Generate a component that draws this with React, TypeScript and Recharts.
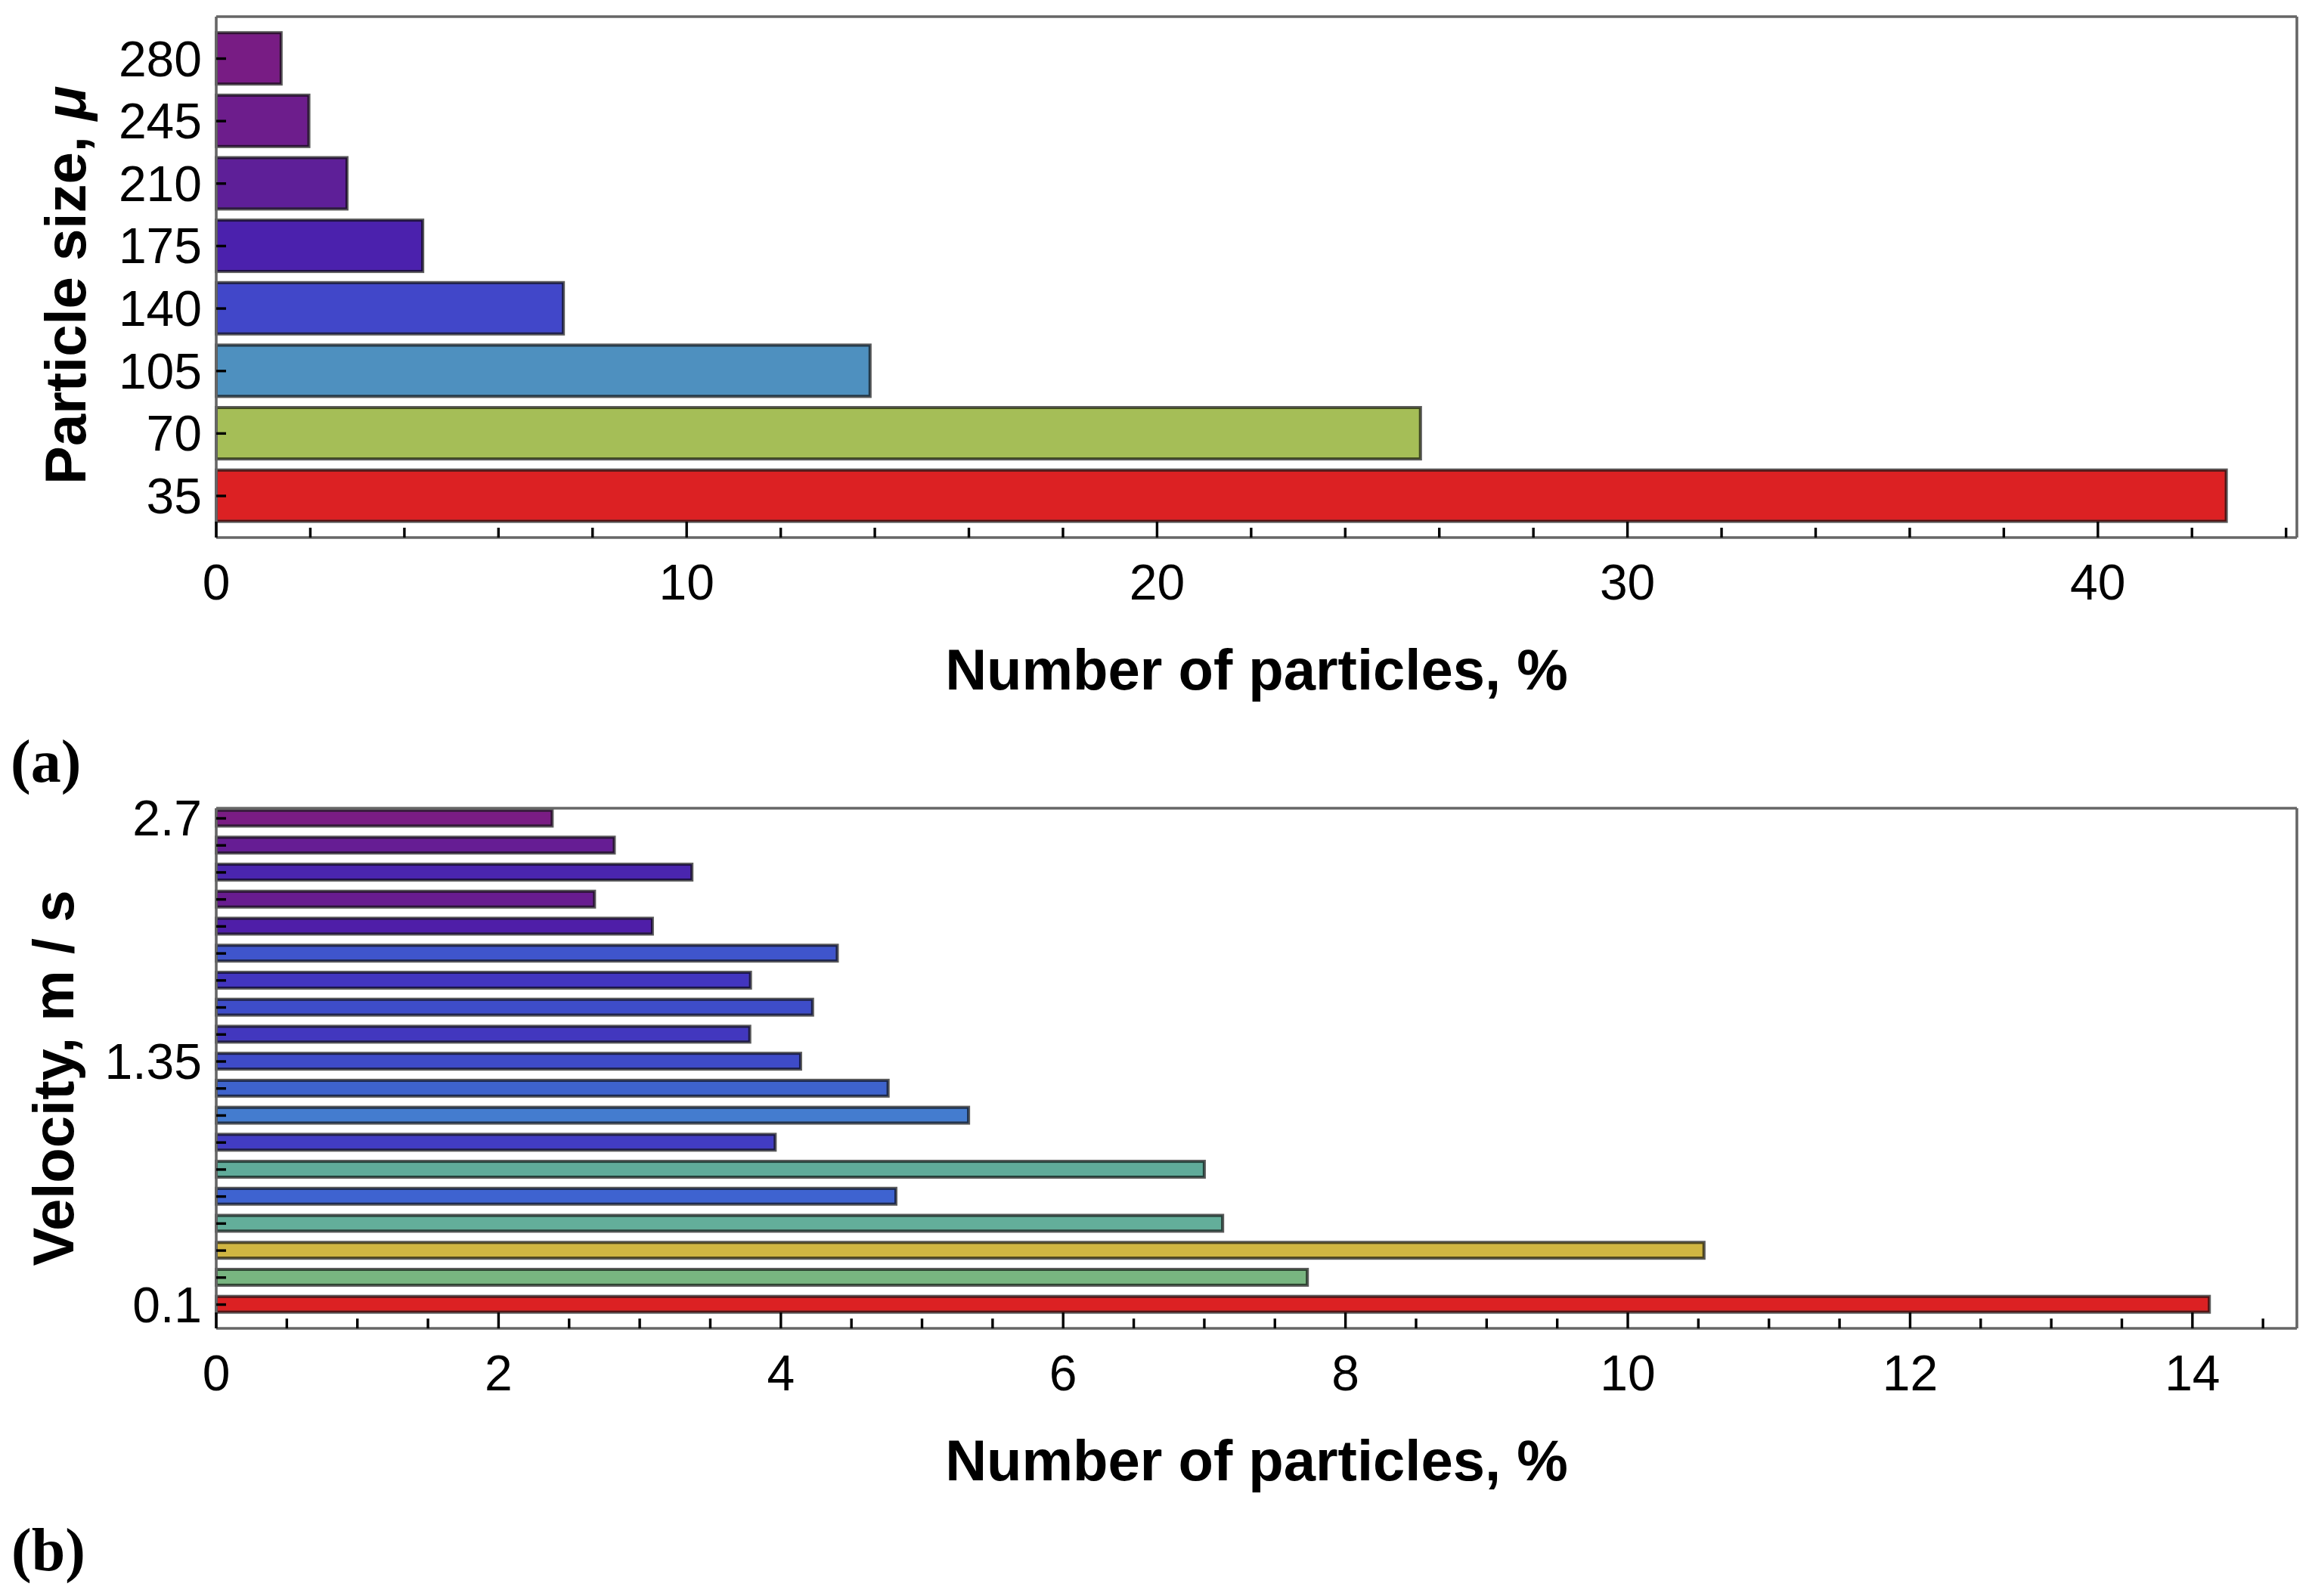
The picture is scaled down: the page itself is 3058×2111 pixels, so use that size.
import React from 'react';
import { BarChart, Bar, XAxis, YAxis, Cell, Label } from 'recharts';

// ---------- data ----------
const sizeCategories = ['35', '70', '105', '140', '175', '210', '245', '280'];
const sizeShares = [42.73, 25.6, 13.9, 7.38, 4.39, 2.78, 1.97, 1.38];
const sizeColors = ['#dc2123', '#a5be57', '#4e90bf', '#4147c9', '#4b21ad', '#5e1f98', '#6d1d8c', '#781c84'];
const sizeXTicks = [0, 2, 4, 6, 8, 10, 12, 14, 16, 18, 20, 22, 24, 26, 28, 30, 32, 34, 36, 38, 40, 42, 44];
const sizeXMajor = [0, 10, 20, 30, 40];
const sizeXMax = 44.23;

// velocity bins from 0.1 m/s (bottom) to 2.7 m/s (top)
const velocityTickLabels = ['0.1', '', '', '', '', '', '', '', '', '1.35', '', '', '', '', '', '', '', '', '2.7'];
const velocityShares = [14.12, 7.73, 10.54, 7.13, 4.815, 7.0, 3.96, 5.33, 4.76, 4.14, 3.78, 4.225, 3.785, 4.4, 3.09, 2.68, 3.37, 2.82, 2.38];
const velocityColors = [
  '#dc2123', '#78b580', '#d0b642', '#63ae9a', '#3e63d0', '#60ab9a', '#423cc3', '#447ccf', '#3e63cd', '#3e4bc8',
  '#4237be', '#3e4dc9', '#4235bf', '#3f55cc', '#4f1ea8', '#681c90', '#4a25ae', '#661d94', '#7a1c84',
];
const velXTicks = [0, 0.5, 1, 1.5, 2, 2.5, 3, 3.5, 4, 4.5, 5, 5.5, 6, 6.5, 7, 7.5, 8, 8.5, 9, 9.5, 10, 10.5, 11, 11.5, 12, 12.5, 13, 13.5, 14, 14.5];
const velXMajor = [0, 2, 4, 6, 8, 10, 12, 14];
const velXMax = 14.74;

const sizeData = sizeCategories.map((c, i) => ({ size: c, share: sizeShares[i] }));
const velocityData = velocityShares.map((v, i) => ({ bin: i, share: v }));

// ---------- styles ----------
const SANS = 'Liberation Sans, Arial, sans-serif';
const FRAME = '#666666';
const FRAME_W = 3.6;
const TICK_FS = 66;
const TITLE_FS = 76;

function darken(hex: string, k: number) {
  const h = hex.replace('#', '');
  const r = Math.round(parseInt(h.slice(0, 2), 16) * k);
  const g = Math.round(parseInt(h.slice(2, 4), 16) * k);
  const b = Math.round(parseInt(h.slice(4, 6), 16) * k);
  return `rgb(${r},${g},${b})`;
}

const EdgedBar = (props: any) => {
  const { x, y, width, height, fill } = props;
  if (width == null || width <= 0 || height == null) return null;
  return (
    <g>
      <rect x={x} y={y} width={width} height={height} fill={fill} stroke="#5a5a5a" strokeWidth={4} />
      <rect x={x + 1} y={y + 1} width={Math.max(width - 2, 0)} height={Math.max(height - 2, 0)} fill="none" stroke={darken(fill, 0.38)} strokeWidth={2} />
    </g>
  );
};

const makeXTick = (majors: number[]) => (props: any) => {
  const { x, y, payload } = props;
  const v = payload.value;
  const major = majors.some((m) => Math.abs(m - v) < 1e-9);
  return (
    <g>
      <line x1={x} x2={x} y1={y} y2={y - (major ? 21 : 13)} stroke="#000" strokeWidth={3.4} />
      {major && (
        <text x={x} y={y + 82} textAnchor="middle" fontFamily={SANS} fontSize={TICK_FS} fill="#000">
          {String(v)}
        </text>
      )}
    </g>
  );
};

const makeYTick = (labelOf: (v: any) => string) => (props: any) => {
  const { x, y, payload } = props;
  const label = labelOf(payload.value);
  return (
    <g>
      <line x1={x} x2={x + 13} y1={y} y2={y} stroke="#000" strokeWidth={3.4} />
      {label && (
        <text x={x - 19} y={y + 23} textAnchor="end" fontFamily={SANS} fontSize={TICK_FS} fill="#000">
          {label}
        </text>
      )}
    </g>
  );
};

const XTitle = (props: any) => {
  const vb = props.viewBox || {};
  return (
    <text x={vb.x + vb.width / 2} y={vb.y + 201} textAnchor="middle" fontFamily={SANS} fontWeight="bold" fontSize={TITLE_FS} fill="#000">
      Number of particles, %
    </text>
  );
};

const makeYTitle = (content: React.ReactNode, baseX: number, centerY: number) => (props: any) => {
  const vb = props.viewBox || {};
  const cx = vb.x + baseX;
  const cy = centerY;
  return (
    <text x={cx} y={cy} transform={`rotate(-90, ${cx}, ${cy})`} textAnchor="middle" fontFamily={SANS} fontWeight="bold" fontSize={TITLE_FS} fill="#000">
      {content}
    </text>
  );
};

const axisLine = { stroke: FRAME, strokeWidth: FRAME_W };

export default function App() {
  return (
    <div style={{ position: 'absolute', left: 0, top: 0, width: 3058, height: 2111, background: '#fff' }}>
      {/* (a) particle size */}
      <div style={{ position: 'absolute', left: 0, top: 0 }}>
        <BarChart width={3058} height={1000} data={sizeData} layout="vertical" margin={{ top: 21, right: 19, bottom: 0, left: 0 }}>
          <XAxis
            type="number"
            domain={[0, sizeXMax]}
            ticks={sizeXTicks}
            interval={0}
            height={289}
            tickSize={0}
            tickMargin={0}
            tickLine={false}
            axisLine={axisLine}
            tick={makeXTick(sizeXMajor)}
          >
            <Label content={XTitle} />
          </XAxis>
          <XAxis xAxisId="top" orientation="top" type="number" domain={[0, sizeXMax]} height={1} tick={false} tickLine={false} axisLine={axisLine} />
          <YAxis
            type="category"
            dataKey="size"
            reversed
            width={286}
            interval={0}
            padding={{ top: 14.2, bottom: 13.7 }}
            tickSize={0}
            tickMargin={0}
            tickLine={false}
            axisLine={axisLine}
            tick={makeYTick((v) => String(v))}
          >
            <Label content={makeYTitle(<>Particle size, <tspan fontStyle="italic">μ</tspan></>, 113, 377)} />
          </YAxis>
          <YAxis yAxisId="right" orientation="right" type="category" dataKey="size" width={1} tick={false} tickLine={false} axisLine={axisLine} />
          <Bar dataKey="share" barSize={68} isAnimationActive={false} shape={EdgedBar}>
            {sizeData.map((_, i) => (
              <Cell key={i} fill={sizeColors[i]} />
            ))}
          </Bar>
        </BarChart>
      </div>

      {/* (b) velocity */}
      <div style={{ position: 'absolute', left: 0, top: 1000 }}>
        <BarChart width={3058} height={1111} data={velocityData} layout="vertical" margin={{ top: 68, right: 19, bottom: 0, left: 0 }}>
          <XAxis
            type="number"
            domain={[0, velXMax]}
            ticks={velXTicks}
            interval={0}
            height={354}
            tickSize={0}
            tickMargin={0}
            tickLine={false}
            axisLine={axisLine}
            tick={makeXTick(velXMajor)}
          >
            <Label content={XTitle} />
          </XAxis>
          <XAxis xAxisId="top" orientation="top" type="number" domain={[0, velXMax]} height={1} tick={false} tickLine={false} axisLine={axisLine} />
          <YAxis
            type="category"
            dataKey="bin"
            reversed
            width={286}
            interval={0}
            padding={{ top: -4.4, bottom: 13.6 }}
            tickSize={0}
            tickMargin={0}
            tickLine={false}
            axisLine={axisLine}
            tick={makeYTick((v) => velocityTickLabels[Number(v)] || '')}
          >
            <Label content={makeYTitle('Velocity, m / s', 97, 426)} />
          </YAxis>
          <YAxis yAxisId="right" orientation="right" type="category" dataKey="bin" width={1} tick={false} tickLine={false} axisLine={axisLine} />
          <Bar dataKey="share" barSize={21} isAnimationActive={false} shape={EdgedBar}>
            {velocityData.map((_, i) => (
              <Cell key={i} fill={velocityColors[i]} />
            ))}
          </Bar>
        </BarChart>
      </div>

      {/* panel letters */}
      <svg width={3058} height={2111} style={{ position: 'absolute', left: 0, top: 0, pointerEvents: 'none' }}>
        <text x={14} y={1034} fontFamily="Liberation Serif, Times New Roman, serif" fontWeight="bold" fontSize={80} fill="#000">
          (a)
        </text>
        <text x={15} y={2077} fontFamily="Liberation Serif, Times New Roman, serif" fontWeight="bold" fontSize={80} fill="#000">
          (b)
        </text>
      </svg>
    </div>
  );
}
